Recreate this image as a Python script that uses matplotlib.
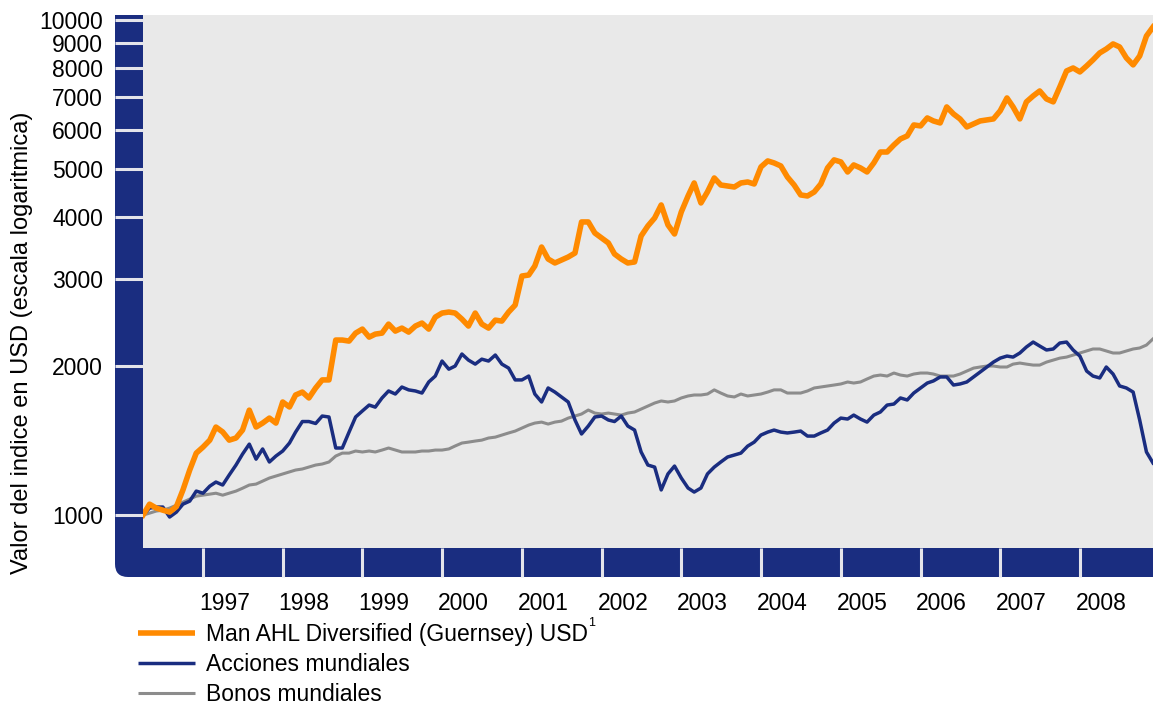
import matplotlib
matplotlib.use('Agg')
import matplotlib.pyplot as plt
import matplotlib.ticker as mticker
from matplotlib.patches import Rectangle, FancyBboxPatch
from matplotlib.transforms import IdentityTransform, ScaledTranslation
import pandas as pd

# monthly index values, Apr 1996 - Dec 2008 (base 1000)
months = pd.date_range('1996-04-01', periods=153, freq='MS')

ahl = [1000, 1052, 1033, 1023, 1014, 1040, 1124, 1233, 1334, 1372, 1417, 1506,
       1472, 1417, 1431, 1485, 1629, 1506, 1534, 1570, 1534, 1692, 1653, 1748,
       1772, 1724, 1806, 1875, 1875, 2257, 2257, 2246, 2331, 2375, 2288, 2320,
       2331, 2431, 2353, 2386, 2342, 2409, 2443, 2375, 2511, 2559, 2571, 2559,
       2488, 2409, 2559, 2431, 2386, 2476, 2465, 2571, 2656, 3040, 3054, 3185,
       3479, 3290, 3230, 3275, 3321, 3383, 3909, 3909, 3713, 3628, 3545, 3368,
       3290, 3230, 3245, 3662, 3837, 3982, 4231, 3855, 3696, 4095, 4411, 4686,
       4270, 4497, 4796, 4642, 4620, 4599, 4686, 4708, 4664, 5049, 5192, 5144,
       5072, 4819, 4642, 4432, 4411, 4494, 4664, 5025, 5217, 5168, 4932, 5096,
       5025, 4932, 5144, 5412, 5412, 5592, 5750, 5832, 6138, 6110, 6341, 6253,
       6195, 6674, 6460, 6312, 6081, 6167, 6253, 6282, 6312, 6555, 6959, 6674,
       6312, 6833, 7024, 7189, 6927, 6833, 7324, 7890, 8000, 7854, 8077, 8306,
       8580, 8739, 8947, 8822, 8383, 8115, 8461, 9283, 9680]

acciones = [1000, 1033, 1038, 1038, 991, 1014, 1052, 1067, 1118, 1107, 1144, 1166,
            1150, 1205, 1262, 1328, 1391, 1297, 1360, 1280, 1316, 1347, 1398, 1471,
            1545, 1545, 1531, 1585, 1578, 1366, 1366, 1471, 1578, 1623, 1668, 1652,
            1724, 1781, 1756, 1814, 1790, 1781, 1764, 1857, 1909, 2047, 1971, 2000,
            2115, 2056, 2018, 2065, 2047, 2105, 2018, 1981, 1875, 1875, 1909, 1756,
            1692, 1806, 1772, 1732, 1692, 1556, 1458, 1513, 1578, 1585, 1556, 1545,
            1585, 1513, 1485, 1341, 1262, 1250, 1124, 1211, 1256, 1188, 1134, 1113,
            1134, 1211, 1250, 1280, 1310, 1322, 1334, 1378, 1404, 1451, 1471, 1485,
            1471, 1465, 1471, 1478, 1444, 1444, 1465, 1485, 1534, 1570, 1563, 1592,
            1563, 1541, 1592, 1615, 1668, 1676, 1724, 1708, 1764, 1806, 1848, 1866,
            1901, 1901, 1831, 1840, 1857, 1901, 1945, 1991, 2037, 2075, 2095, 2085,
            2125, 2185, 2236, 2195, 2155, 2165, 2226, 2236, 2155, 2095, 1954, 1909,
            1892, 1991, 1927, 1823, 1806, 1772, 1556, 1341, 1274]

bonos = [1000, 1009, 1019, 1023, 1033, 1047, 1062, 1077, 1092, 1097, 1102, 1107,
         1097, 1107, 1118, 1133, 1150, 1155, 1171, 1188, 1199, 1210, 1222, 1233,
         1239, 1250, 1262, 1268, 1280, 1316, 1334, 1334, 1347, 1341, 1347, 1341,
         1353, 1366, 1353, 1341, 1341, 1341, 1347, 1347, 1353, 1353, 1360, 1379,
         1398, 1404, 1411, 1417, 1431, 1437, 1451, 1465, 1478, 1499, 1520, 1534,
         1541, 1527, 1541, 1548, 1570, 1585, 1600, 1630, 1607, 1600, 1607, 1600,
         1592, 1607, 1615, 1637, 1660, 1684, 1700, 1692, 1700, 1724, 1740, 1748,
         1748, 1756, 1790, 1764, 1740, 1732, 1756, 1740, 1748, 1756, 1772, 1790,
         1790, 1764, 1764, 1764, 1781, 1806, 1814, 1823, 1831, 1840, 1857, 1848,
         1857, 1883, 1909, 1918, 1909, 1936, 1918, 1909, 1927, 1936, 1936, 1927,
         1909, 1909, 1909, 1927, 1954, 1981, 1991, 2000, 2000, 1991, 1991, 2018,
         2028, 2018, 2009, 2009, 2037, 2056, 2075, 2085, 2105, 2125, 2145, 2165,
         2165, 2145, 2125, 2125, 2145, 2165, 2175, 2205, 2269]

y_ticks = [1000, 2000, 3000, 4000, 5000, 6000, 7000, 8000, 9000, 10000]
years = list(range(1997, 2009))

labels = ['Man AHL Diversified (Guernsey) USD', 'Acciones mundiales', 'Bonos mundiales']

ORANGE = '#FF8A00'
NAVY = '#1A2D80'
GREY = '#8C8C8C'
SEP = '#E4E4EA'
FS = 16.5

plt.rcParams['font.family'] = ['Liberation Sans', 'DejaVu Sans']

W, H = 1153, 706
fig = plt.figure(figsize=(W / 100, H / 100), dpi=100)
fig.patch.set_facecolor('white')


def box(x0, y0, x1, y1):
    # pixel box (top-left origin) -> figure fraction rect
    return [x0 / W, 1 - y1 / H, (x1 - x0) / W, (y1 - y0) / H]


ax = fig.add_axes(box(143, 15, 1153, 548))
ax.set_facecolor('#E9E9E9')

# navy L-shaped frame with rounded outer corner
ident = IdentityTransform()
frame = [
    Rectangle((115, H - 560), 28, 545),
    Rectangle((128, H - 577), 1040, 29),
    FancyBboxPatch((115, H - 577), 60, 60, boxstyle='round,pad=0,rounding_size=13'),
]
for p in frame:
    p.set_transform(ident)
    p.set_facecolor(NAVY)
    p.set_edgecolor('none')
    p.set_zorder(-1)
    fig.patches.append(p)

ax.plot(months, bonos, color=GREY, lw=2.2, zorder=2)
ax.plot(months, acciones, color=NAVY, lw=2.5, zorder=3)
ax.plot(months, ahl, color=ORANGE, lw=4.0, zorder=4)

ax.set_yscale('log')
ax.set_ylim(858, 10235)
ax.set_xlim(months[0], months[-1])

ax.yaxis.set_major_locator(mticker.FixedLocator(y_ticks))
ax.yaxis.set_major_formatter(mticker.FixedFormatter([str(v) for v in y_ticks]))
ax.yaxis.set_minor_locator(mticker.NullLocator())

xt = [pd.Timestamp(f'{y}-01-01') for y in years]
ax.set_xticks(xt)
ax.set_xticklabels([str(y) for y in years], ha='left')
ax.xaxis.set_minor_locator(mticker.NullLocator())

ax.tick_params(axis='y', direction='out', length=20.2, width=2.2, color=SEP,
               pad=8.6, labelsize=FS, labelcolor='black')
ax.tick_params(axis='x', direction='out', length=20.9, width=2.2, color=SEP,
               pad=10.5, labelsize=FS, labelcolor='black')
shift = ScaledTranslation(-3 / 72, 0, fig.dpi_scale_trans)
for lab in ax.get_xticklabels():
    lab.set_transform(lab.get_transform() + shift)

for s in ax.spines.values():
    s.set_visible(False)

fig.text(22 / W, 1 - 343 / H, 'Valor del indice en USD (escala logaritmica)',
         rotation=90, ha='center', va='center', fontsize=17)

handles = ax.get_lines()[::-1]
leg = fig.legend(handles, labels, loc='upper left', bbox_to_anchor=(138 / W, 1 - 623 / H),
                 frameon=False, fontsize=FS, handlelength=2.5, handletextpad=0.48,
                 labelspacing=0.31, borderpad=0, borderaxespad=0)
for line in leg.get_lines():
    line.set_solid_capstyle('butt')

# footnote marker after the first legend entry (drawn after the legend)
fig.add_artist(matplotlib.text.Annotation('1', xy=(1.0, 1.0), xycoords=leg.get_texts()[0],
                                          xytext=(-0.5, 4), textcoords='offset points',
                                          fontsize=9, ha='left', va='top', zorder=10))

fig.savefig('out.png', dpi=100)
